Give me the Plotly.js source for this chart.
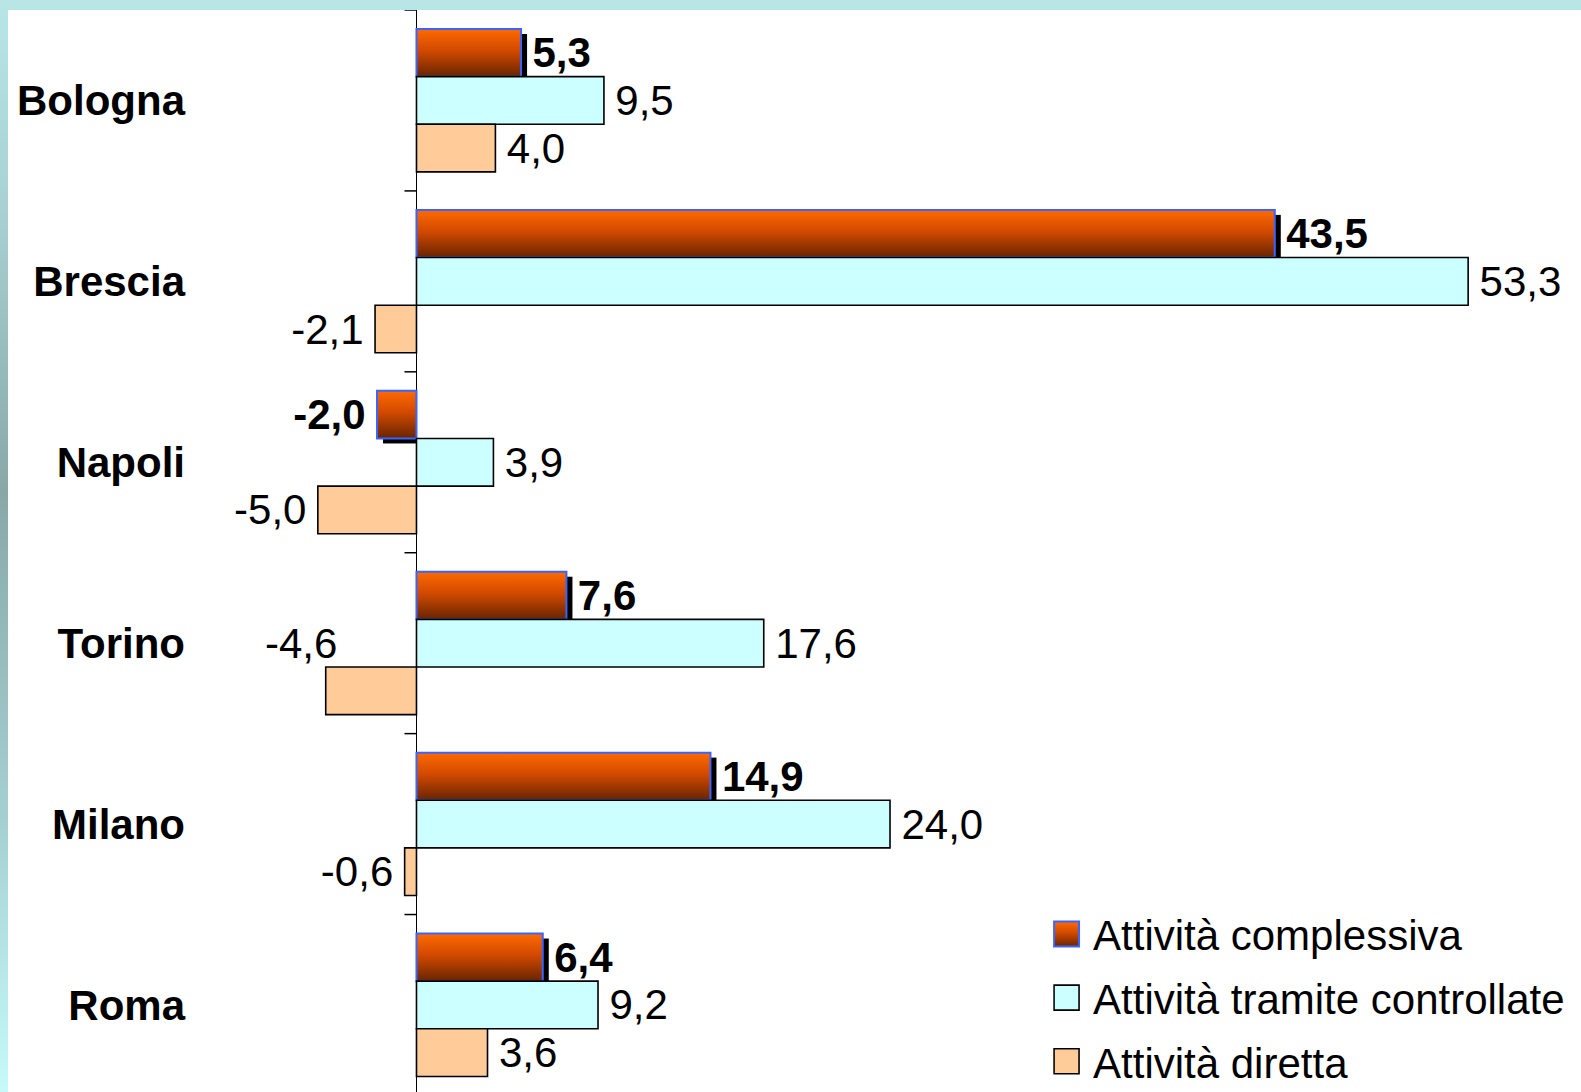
<!DOCTYPE html>
<html>
<head>
<meta charset="utf-8">
<script src="https://cdn.plot.ly/plotly-3.0.1.min.js"></script>
<style>
html, body { margin: 0; padding: 0; width: 1581px; height: 1092px; overflow: hidden;
  background: linear-gradient(to bottom, #b8e6e6 0%, #a8d0d0 20%, #88a8a8 45%, #a6d0d0 75%, #c6fafa 100%); }
#chart { position: absolute; left: 8px; top: 10px; width: 1573px; height: 1120px; background: #ffffff; }
</style>
</head>
<body>
<div id="chart"></div>
<script>
// ---- data ----
const categories = ['Bologna', 'Brescia', 'Napoli', 'Torino', 'Milano', 'Roma'];
const seriesNames = ['Attività complessiva', 'Attività tramite controllate', 'Attività diretta'];
const complessiva = [5.3, 43.5, -2.0, 7.6, 14.9, 6.4];
const tramite = [9.5, 53.3, 3.9, 17.6, 24.0, 9.2];
const diretta = [4.0, -2.1, -5.0, -4.6, -0.6, 3.6];

// ---- helpers ----
const FONT = 'Liberation Sans, Arial, sans-serif';
const fmt = v => v.toFixed(1).replace('.', ',');
const padText = (v, hide) => hide ? '' : (v >= 0 ? '\u2009' + fmt(v) : fmt(v) + '\u2009');

// the Torino label of "Attività diretta" is moved by hand in the original
const movedLabel = { series: 2, category: 'Torino' };

const seriesValues = [complessiva, tramite, diretta];
const fills = ['#e05000', '#ccffff', '#ffcc99'];
const lines = ['#3a64ff', '#000000', '#000000'];
const lineWidths = [2, 1.6, 1.6];

const traces = seriesValues.map((vals, s) => ({
  type: 'bar',
  orientation: 'h',
  name: seriesNames[s],
  legendgroup: 'g' + s,
  y: categories,
  x: vals,
  text: vals.map((v, i) => padText(v, s === movedLabel.series && categories[i] === movedLabel.category)),
  textposition: 'outside',
  cliponaxis: false,
  constraintext: 'none',
  textfont: { family: FONT, size: 42, color: '#000000', weight: s === 0 ? 'bold' : 'normal' },
  marker: { color: fills[s], line: { color: lines[s], width: lineWidths[s] } },
  hoverinfo: 'skip'
}));

const mIdx = categories.indexOf(movedLabel.category);
const annotations = [{
  x: seriesValues[movedLabel.series][mIdx], y: movedLabel.category,
  xref: 'x', yref: 'y', text: fmt(seriesValues[movedLabel.series][mIdx]),
  showarrow: false, xanchor: 'right', yanchor: 'middle', xshift: 13, yshift: 0,
  font: { family: FONT, size: 42, color: '#000000' }
}];

// small tick marks on the zero axis at the category boundaries
const shapes = [];
for (let i = 0; i <= categories.length; i++) {
  shapes.push({
    type: 'line', xref: 'x', yref: 'y', xsizemode: 'pixel', xanchor: 0,
    x0: -12, x1: 0, y0: i - 0.5, y1: i - 0.5,
    line: { color: '#000000', width: 1.5 }
  });
}

const layout = {
  width: 1573, height: 1120,
  margin: { l: 180, r: 0, t: 0, b: 0, pad: 0 },
  paper_bgcolor: '#ffffff', plot_bgcolor: '#ffffff',
  barmode: 'group', bargap: 0.21, bargroupgap: 0,
  showlegend: true,
  legend: {
    x: 0.621, y: 0.2052, xanchor: 'left', yanchor: 'top',
    bgcolor: 'rgba(0,0,0,0)', tracegroupgap: 6,
    font: { family: FONT, size: 42, color: '#000000' }
  },
  xaxis: {
    range: [-11.58, 59.02], showgrid: false, showticklabels: false, ticks: '',
    zeroline: true, zerolinecolor: '#000000', zerolinewidth: 1.5, showline: false,
    layer: 'above traces', fixedrange: true, automargin: false
  },
  yaxis: {
    type: 'category', range: [5.691, -0.5], showgrid: false, zeroline: false, showline: false,
    ticks: '', ticklabelstandoff: 2, automargin: false,
    tickfont: { family: FONT, size: 42, color: '#000000', weight: 'bold' },
    fixedrange: true
  },
  shapes: shapes,
  annotations: annotations,
  font: { family: FONT }
};

Plotly.newPlot('chart', traces, layout, { staticPlot: true, displayModeBar: false }).then(gd => {
  const svg = gd.querySelector('svg.main-svg');
  const NS = 'http://www.w3.org/2000/svg';
  let defs = svg.querySelector('defs');
  if (!defs) { defs = document.createElementNS(NS, 'defs'); svg.insertBefore(defs, svg.firstChild); }
  const grad = document.createElementNS(NS, 'linearGradient');
  grad.setAttribute('id', 'orangeGrad');
  grad.setAttribute('x1', '0'); grad.setAttribute('y1', '0');
  grad.setAttribute('x2', '0'); grad.setAttribute('y2', '1');
  [['0%', '#ff6a00'], ['45%', '#d24a00'], ['100%', '#682400']].forEach(([o, c]) => {
    const st = document.createElementNS(NS, 'stop');
    st.setAttribute('offset', o); st.setAttribute('stop-color', c);
    grad.appendChild(st);
  });
  defs.appendChild(grad);

  const xa = gd._fullLayout.xaxis;
  const zeroPx = xa.c2p(0);
  const barTraces = gd.querySelectorAll('.barlayer .trace');
  if (barTraces.length) {
    barTraces[0].querySelectorAll('.point').forEach((pt, i) => {
      const p = pt.querySelector('path');
      if (!p) return;
      const bb = p.getBBox();
      const dx = 6, dy = 5;
      let x0 = bb.x + dx, x1 = bb.x + bb.width + dx;
      if (complessiva[i] < 0) x1 = Math.min(x1, zeroPx);
      const r = document.createElementNS(NS, 'rect');
      r.setAttribute('x', x0); r.setAttribute('y', bb.y + dy);
      r.setAttribute('width', Math.max(0, x1 - x0)); r.setAttribute('height', bb.height);
      r.setAttribute('fill', '#000000');
      pt.insertBefore(r, p);
      p.style.fill = 'url(#orangeGrad)';
    });
  }
  // enlarge legend swatches
  gd.querySelectorAll('.legend .traces').forEach((tr, k) => {
    const p = tr.querySelector('.legendpoints path');
    if (!p) return;
    p.removeAttribute('transform');
    p.setAttribute('d', 'M26,12.5H1V-12.5H26Z');
    p.style.strokeWidth = k === 0 ? '2px' : '1.6px';
    if (k === 0) p.style.fill = 'url(#orangeGrad)';
  });
});
</script>
</body>
</html>
